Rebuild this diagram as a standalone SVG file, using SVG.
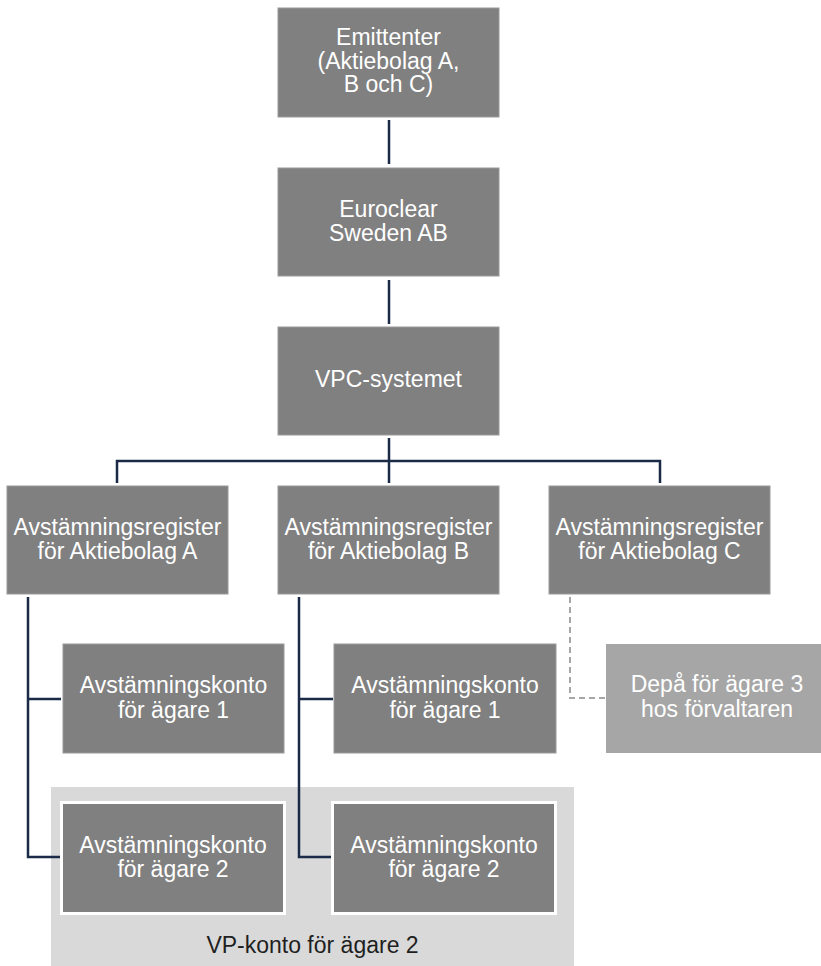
<svg xmlns="http://www.w3.org/2000/svg" width="821" height="966" viewBox="0 0 821 966">
<style>
.box{fill:#808080;stroke:#9a9a9a;stroke-width:1}
.lite{fill:#a6a6a6}
.inner{fill:#808080;stroke:#ffffff;stroke-width:3}
.t{font-family:"Liberation Sans",Arial,sans-serif;font-size:23px;fill:#ffffff;text-anchor:middle}
.dk{fill:#1f1f1f}
.c{fill:none;stroke:#1b2a47;stroke-width:2.5}
.d{fill:none;stroke:#a6a6a6;stroke-width:2;stroke-dasharray:6 4}
</style>
<rect id="vpkonto-bg" x="51" y="787" width="523" height="179" fill="#d9d9d9"/>
<g id="connectors">
<path class="c" d="M389 120V164M389 280V324M389 438V483M117 483V461H660V483"/>
<path class="c" d="M28 597V857H60M28 699H61"/>
<path class="c" d="M299 597V857H331M299 699H333"/>
<path class="d" d="M570 597V698H605"/>
</g>
<g id="emittenter"><rect class="box" x="278" y="8" width="221" height="109"/>
<text class="t" x="388.5" y="45">Emittenter</text><text class="t" x="388.5" y="68.5">(Aktiebolag A,</text><text class="t" x="388.5" y="92">B och C)</text></g>
<g id="euroclear"><rect class="box" x="278" y="168" width="221" height="108"/>
<text class="t" x="388.5" y="217">Euroclear</text><text class="t" x="388.5" y="241">Sweden AB</text></g>
<g id="vpc"><rect class="box" x="278" y="327" width="221" height="108"/>
<text class="t" x="388.5" y="387">VPC-systemet</text></g>
<g id="reg-a"><rect class="box" x="7" y="486" width="221" height="108"/>
<text class="t" x="117.5" y="535">Avstämningsregister</text><text class="t" x="117.5" y="559">för Aktiebolag A</text></g>
<g id="reg-b"><rect class="box" x="278" y="486" width="221" height="108"/>
<text class="t" x="388.5" y="535">Avstämningsregister</text><text class="t" x="388.5" y="559">för Aktiebolag B</text></g>
<g id="reg-c"><rect class="box" x="549" y="486" width="221" height="108"/>
<text class="t" x="659.5" y="535">Avstämningsregister</text><text class="t" x="659.5" y="559">för Aktiebolag C</text></g>
<g id="konto-a1"><rect class="box" x="63" y="644" width="221" height="109"/>
<text class="t" x="173.5" y="693">Avstämningskonto</text><text class="t" x="173.5" y="718">för ägare 1</text></g>
<g id="konto-b1"><rect class="box" x="334" y="644" width="222" height="109"/>
<text class="t" x="445" y="693">Avstämningskonto</text><text class="t" x="445" y="718">för ägare 1</text></g>
<g id="depa"><rect class="lite" x="606" y="644" width="222" height="109"/>
<text class="t" x="717" y="692">Depå för ägare 3</text><text class="t" x="717" y="717">hos förvaltaren</text></g>
<g id="konto-a2"><rect class="inner" x="61.5" y="802.5" width="223" height="111"/>
<text class="t" x="173" y="853">Avstämningskonto</text><text class="t" x="173" y="877">för ägare 2</text></g>
<g id="konto-b2"><rect class="inner" x="332.5" y="802.5" width="223" height="111"/>
<text class="t" x="444" y="853">Avstämningskonto</text><text class="t" x="444" y="877">för ägare 2</text></g>
<g id="vpkonto-label"><text class="t dk" x="312.5" y="953">VP-konto för ägare 2</text></g>
</svg>
